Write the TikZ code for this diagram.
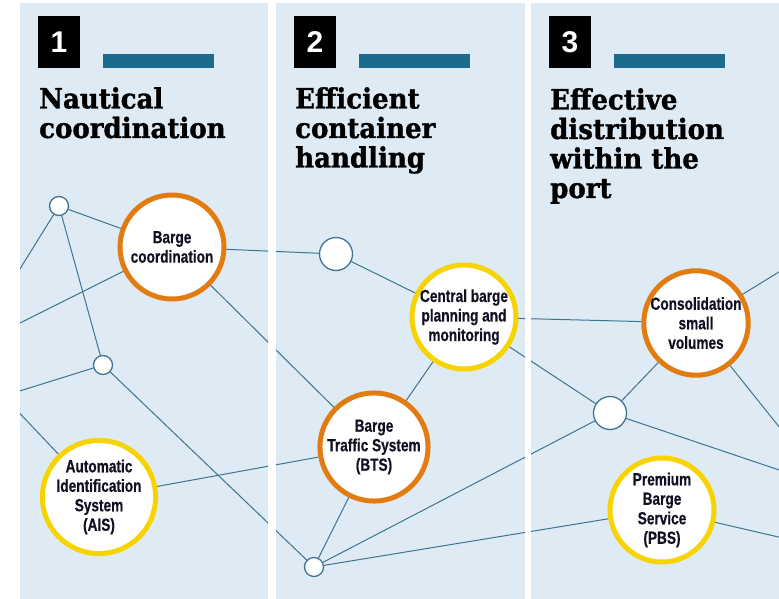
\documentclass[tikz,border=0pt]{standalone}
\usepackage{fontspec}
\setmainfont{Liberation Sans}
\newfontfamily\headfont{DejaVu Serif}[FakeStretch=0.93,FakeBold=1.2]
\newfontfamily\tagfont{Liberation Sans}[FakeStretch=0.78,FakeBold=0.5]

\definecolor{panelbg}{RGB}{222,234,244}
\definecolor{wire}{RGB}{62,116,145}
\definecolor{ringor}{RGB}{226,124,16}
\definecolor{ringye}{RGB}{247,212,0}
\definecolor{barteal}{RGB}{28,106,140}
\definecolor{inktext}{RGB}{16,16,34}

\begin{document}
\begin{tikzpicture}[x=1pt,y=-1pt,
    hub/.style={circle,draw=wire,fill=white,line width=1.3pt,inner sep=0pt,minimum size=19pt},
    bighub/.style={hub,minimum size=33pt},
    topic/.style={circle,fill=white,line width=5pt,minimum size=104pt,inner sep=0pt,
        align=center,text=inktext,font=\tagfont\bfseries\fontsize{17.5}{19.5}\selectfont},
    numbox/.style={fill=black,text=white,minimum width=42pt,minimum height=52pt,inner sep=0pt,
        font=\bfseries\fontsize{30}{30}\selectfont},
    title/.style={anchor=north west,inner sep=0pt,align=left,text=black,
        font=\headfont\bfseries\fontsize{28}{29.5}\selectfont},
    link/.style={draw=wire,line width=1pt}]
  \useasboundingbox (0,0) rectangle (779,599);
  \fill[white] (0,0) rectangle (779,599);

  % panels, number boxes and bars
  \foreach \x/\w/\i in {20/248/1,276/249/2,531/248/3} {
    \fill[panelbg] (\x,3) rectangle ++(\w,596);
    \node[numbox] (num\i) at (\x+39,42) {\i};
    \fill[barteal] (\x+83,54) rectangle ++(111,14);
  }

  \node[title] (t1) at (39,87) {Nautical\\coordination};
  \node[title] (t2) at (295,87) {Efficient\\container\\handling};
  \node[title] (t3) at (550,88) {Effective\\distribution\\within the\\port};

  % network
  \node[hub] (n1) at (59,206) {};
  \node[topic,draw=ringor] (bc) at (172,247) {Barge\\coordination};
  \node[hub] (n2) at (103,365) {};
  \node[topic,draw=ringye] (ais) at (99,497) {Automatic\\Identification\\System\\(AIS)};
  \node[bighub] (n3) at (336,254) {};
  \node[topic,draw=ringye] (cbp) at (464,317) {Central barge\\planning and\\monitoring};
  \node[topic,draw=ringor] (bts) at (374,447) {Barge\\Traffic System\\(BTS)};
  \node[hub] (n4) at (314,567) {};
  \node[topic,draw=ringor] (cons) at (696,323) {Consolidation\\small\\volumes};
  \node[bighub] (n5) at (610,413) {};
  \node[topic,draw=ringye] (pbs) at (662,510) {Premium\\Barge\\Service\\(PBS)};

  \begin{scope}
    \clip (20,3) rectangle (268,599) (276,3) rectangle (525,599) (531,3) rectangle (779,599);
    \coordinate (w1) at (10,285);
    \coordinate (w2) at (10,328);
    \coordinate (w3) at (10,394);
    \coordinate (w4) at (10,403);
    \coordinate (e1) at (800,259);
    \coordinate (e2) at (800,453);
    \coordinate (e3) at (800,477);
    \coordinate (e4) at (800,542);
    \foreach \a/\b in {w1/n1,n1/bc,n1/n2,w2/bc,w3/n2,n2/n4,w4/ais,ais/bts,bc/n3,bc/bts,
        n3/cbp,cbp/bts,bts/n4,n4/n5,n4/pbs,cbp/cons,cbp/n5,n5/cons,cons/e1,cons/e2,n5/e3,pbs/e4}
      \draw[link] (\a) -- (\b);
  \end{scope}
\end{tikzpicture}
\end{document}
